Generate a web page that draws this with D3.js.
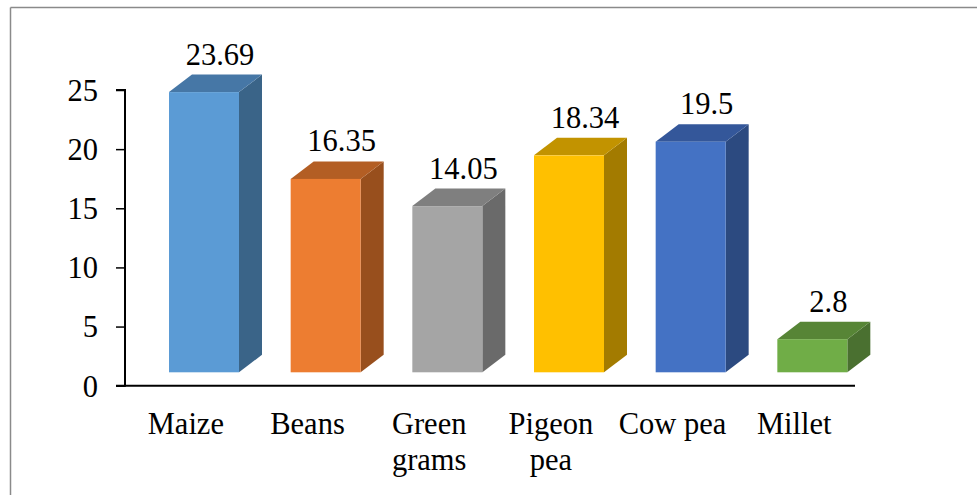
<!DOCTYPE html>
<html>
<head>
<meta charset="utf-8">
<script src="https://cdn.jsdelivr.net/npm/d3@7"></script>
<style>
  html, body { margin: 0; padding: 0; background: #fff; }
  svg { display: block; }
</style>
</head>
<body>
<svg id="chart" width="977" height="495"></svg>
<script>
const categories = ["Maize", "Beans", "Green grams", "Pigeon pea", "Cow pea", "Millet"];
const values = [23.69, 16.35, 14.05, 18.34, 19.5, 2.8];
const valueLabels = ["23.69", "16.35", "14.05", "18.34", "19.5", "2.8"];
const yTicks = [0, 5, 10, 15, 20, 25];
const frontColors = ["#5B9BD5", "#ED7D31", "#A5A5A5", "#FFC000", "#4472C4", "#70AD47"];
const topColors   = ["#4677A6", "#B35E24", "#7F7F7F", "#C29300", "#34579A", "#578536"];
const sideColors  = ["#3A6488", "#984F1D", "#6A6A6A", "#A37B00", "#2C4A80", "#4A7030"];

const FONT = "'Liberation Serif', 'Times New Roman', Times, serif";
const svg = d3.select("#chart");
const W = 977, H = 495;

// frame (top and left edges visible)
svg.append("line").attr("x1", 10.5).attr("y1", 7.5).attr("x2", W).attr("y2", 7.5)
  .attr("stroke", "#8a8a8a").attr("stroke-width", 1.5);
svg.append("line").attr("x1", 10.5).attr("y1", 7.5).attr("x2", 10.5).attr("y2", H)
  .attr("stroke", "#8a8a8a").attr("stroke-width", 1.5);

const axisX0 = 125, axisX1 = 855, axisY0 = 385.7;
const y = d3.scaleLinear().domain([0, 25]).range([axisY0, 90]);
const x = d3.scaleBand().domain(categories).range([axisX0, axisX1]).padding(0);

// 3D offsets
const floorShift = 13.4;
const dx = 23, dy = 17.5;
const barOffset = 44, barW = 70;

const g = svg.append("g");
categories.forEach((c, i) => {
  const x0 = x(c) + barOffset;
  const x1 = x0 + barW;
  const yb = y(0) - floorShift;
  const yt = y(values[i]) - floorShift;
  g.append("path")
    .attr("d", `M${x1},${yb} L${x1 + dx},${yb - dy} L${x1 + dx},${yt - dy} L${x1},${yt} Z`)
    .attr("fill", sideColors[i]);
  g.append("path")
    .attr("d", `M${x0},${yt} L${x0 + dx},${yt - dy} L${x1 + dx},${yt - dy} L${x1},${yt} Z`)
    .attr("fill", topColors[i]);
  g.append("rect")
    .attr("x", x0).attr("y", yt).attr("width", barW).attr("height", yb - yt)
    .attr("fill", frontColors[i]);
  g.append("text")
    .attr("x", x0 + barW / 2 + 16)
    .attr("y", yt - dy - 10)
    .attr("text-anchor", "middle")
    .style("font-family", FONT)
    .style("font-size", "30.5px")
    .attr("fill", "#000")
    .text(valueLabels[i]);
});

// y axis
const yAxis = d3.axisLeft(y).tickValues(yTicks).tickSize(9).tickPadding(18).tickFormat(d3.format("d"));
const ya = svg.append("g").attr("transform", `translate(${axisX0},0)`).call(yAxis);
ya.select(".domain").attr("stroke", "#000").attr("stroke-width", 2).attr("d", `M-9,${y(25)}H0V${y(0)}H-9`);
ya.selectAll(".tick line").attr("stroke", "#000").attr("stroke-width", 1.5);
ya.selectAll(".tick text").style("font-size", "30.5px").style("font-family", FONT).attr("fill", "#000").attr("dy", "0.34em");

// x axis
const xAxis = d3.axisBottom(x).tickSize(0).tickPadding(0);
const xa = svg.append("g").attr("transform", `translate(0,${axisY0})`).call(xAxis);
xa.select(".domain").attr("stroke", "#000").attr("stroke-width", 2).attr("d", `M${axisX0},0H${axisX1}`);
xa.selectAll(".tick text").remove();
xa.selectAll(".tick").each(function(d) {
  const lines = d === "Cow pea" ? [d] : d.split(" ");
  const t = d3.select(this).append("text")
    .attr("text-anchor", "middle")
    .style("font-size", "30.5px")
    .style("font-family", FONT)
    .attr("fill", "#000");
  lines.forEach((l, k) => {
    t.append("tspan").attr("x", 0).attr("y", 48 + k * 36).text(l);
  });
});
</script>
</body>
</html>
